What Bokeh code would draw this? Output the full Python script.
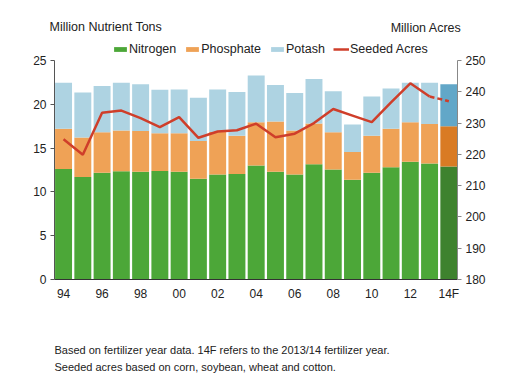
from bokeh.plotting import figure
from bokeh.layouts import column, row
from bokeh.models import (Range1d, LinearAxis, FixedTicker, Label, Legend, LegendItem,
                          ColumnDataSource)
from bokeh.embed import file_html
from bokeh.resources import INLINE

years = ["94", "95", "96", "97", "98", "99", "00", "01", "02", "03", "04",
         "05", "06", "07", "08", "09", "10", "11", "12", "13", "14F"]
nitrogen = [12.6, 11.7, 12.2, 12.35, 12.3, 12.4, 12.3, 11.5, 12.0, 12.05, 13.0,
            12.3, 12.0, 13.15, 12.55, 11.4, 12.2, 12.8, 13.45, 13.25, 12.9]
phosphate = [4.6, 4.5, 4.6, 4.65, 4.65, 4.3, 4.4, 4.3, 4.85, 4.35, 4.95,
             5.75, 5.0, 4.65, 4.25, 3.15, 4.2, 4.4, 4.5, 4.5, 4.6]
potash = [5.25, 5.15, 5.3, 5.45, 5.35, 4.95, 5.0, 4.95, 4.85, 5.0, 5.35,
          4.15, 4.3, 5.1, 4.7, 3.15, 4.5, 4.6, 4.5, 4.7, 4.8]
acres = [224.8, 219.9, 233.3, 234.0, 231.6, 228.7, 231.9, 225.3, 227.3, 227.7, 229.8,
         225.5, 226.6, 230.0, 234.5, 232.4, 230.3, 236.6, 242.7, 238.5, 237.0]

x = list(range(len(years)))
n_top = nitrogen
p_top = [a + b for a, b in zip(nitrogen, phosphate)]
k_top = [a + b for a, b in zip(p_top, potash)]

GREEN, ORANGE, BLUE = "#4CA738", "#EFA256", "#AED3E2"
green = [GREEN] * 20 + ["#3E822E"]
orange = [ORANGE] * 20 + ["#D97B24"]
blue = [BLUE] * 20 + ["#62A7C8"]
RED = "#CF3E2A"

src = ColumnDataSource(dict(x=x, n_top=n_top, p_top=p_top, k_top=k_top,
                            g=green, o=orange, b=blue))

FONT = "Liberation Sans"
TXT = "#222222"


def strip(h):
    f = figure(width=512, height=h, output_backend="svg", toolbar_location=None,
               x_range=Range1d(0, 512), y_range=Range1d(0, h),
               x_axis_location=None, y_axis_location=None,
               min_border=0, min_border_left=0, min_border_right=0,
               min_border_top=0, min_border_bottom=0)
    f.outline_line_color = None
    f.xgrid.visible = False
    f.ygrid.visible = False
    return f


# ---------------- top strip: axis titles ----------------
top = strip(38)
top.add_layout(Label(x=49, y=12, x_units="screen", y_units="screen", text="Million Nutrient Tons",
                     text_font=FONT, text_font_size="12.5px", text_color=TXT,
                     text_baseline="middle", text_align="left"))
top.add_layout(Label(x=461, y=11, x_units="screen", y_units="screen", text="Million Acres",
                     text_font=FONT, text_font_size="12.5px", text_color=TXT,
                     text_baseline="middle", text_align="right"))

# ---------------- main chart ----------------
# frame spans 241 px; the value axes occupy the lower 219 px (0-25 / 180-250),
# the strip above them holds the legend
FRAME_H, AXIS_H = 241, 219
ytop = 25 * FRAME_H / AXIS_H
atop = 180 + 70 * FRAME_H / AXIS_H

p = figure(width=512, height=FRAME_H + 26, output_backend="svg", toolbar_location=None,
           x_range=Range1d(-0.47, 20.45), y_range=Range1d(0, ytop),
           min_border_left=54, min_border_right=55, min_border_top=0,
           min_border_bottom=26)
p.outline_line_color = None
p.xgrid.visible = False
p.ygrid.visible = False

w = 0.88
r_n = p.vbar(x="x", bottom=0, top="n_top", width=w, fill_color="g", line_color=None, source=src)
r_p = p.vbar(x="x", bottom="n_top", top="p_top", width=w, fill_color="o", line_color=None, source=src)
r_k = p.vbar(x="x", bottom="p_top", top="k_top", width=w, fill_color="b", line_color=None, source=src)

p.extra_y_ranges = {"acres": Range1d(180, atop)}
r_a = p.line(x[:20], acres[:20], y_range_name="acres", line_color=RED, line_width=2.5)
p.line(x[19:], acres[19:], y_range_name="acres", line_color=RED, line_width=2.5,
       line_dash="5 3")

xa = p.xaxis[0]
xa.ticker = FixedTicker(ticks=list(range(0, 21, 2)))
xa.major_label_overrides = {i: years[i] for i in range(0, 21, 2)}
xa.major_tick_out = 0
xa.major_tick_in = 0
xa.minor_tick_out = 0
xa.minor_tick_in = 0
xa.axis_line_color = "#333333"
xa.major_label_text_font = FONT
xa.major_label_text_font_size = "12px"
xa.major_label_text_color = TXT
xa.major_label_standoff = 7

ya = p.yaxis[0]
ya.ticker = FixedTicker(ticks=[0, 5, 10, 15, 20, 25])
ya.bounds = (0, 25)
ya.major_tick_out = 4
ya.major_tick_in = 0
ya.minor_tick_out = 0
ya.minor_tick_in = 0
ya.axis_line_color = "#555555"
ya.major_tick_line_color = "#555555"
ya.major_label_text_font = FONT
ya.major_label_text_font_size = "12px"
ya.major_label_text_color = TXT
ya.major_label_standoff = 4

ra = LinearAxis(y_range_name="acres", ticker=FixedTicker(ticks=list(range(180, 251, 10))),
                bounds=(180, 250))
ra.major_tick_out = 4
ra.major_tick_in = 0
ra.minor_tick_out = 0
ra.minor_tick_in = 0
ra.axis_line_color = "#888888"
ra.major_tick_line_color = "#888888"
ra.major_label_text_font = FONT
ra.major_label_text_font_size = "12px"
ra.major_label_text_color = TXT
ra.major_label_standoff = 4
p.add_layout(ra, "right")

legend = Legend(items=[
    LegendItem(label="Nitrogen", renderers=[r_n], index=0),
    LegendItem(label="Phosphate", renderers=[r_p], index=0),
    LegendItem(label="Potash", renderers=[r_k], index=0),
    LegendItem(label="Seeded Acres", renderers=[r_a]),
], orientation="horizontal", location=(58, FRAME_H - 18), padding=0, margin=0, spacing=8,
    glyph_width=16, glyph_height=6, label_standoff=1, label_height=6,
    label_text_font=FONT, label_text_font_size="12.5px", label_text_color=TXT,
    border_line_color=None, background_fill_alpha=0)
p.add_layout(legend)

# ---------------- bottom strip: footnotes ----------------
bot = strip(74)
bot.add_layout(Label(x=54, y=30, x_units="screen", y_units="screen",
                     text="Based on fertilizer year data. 14F refers to the 2013/14 fertilizer year.",
                     text_font=FONT, text_font_size="11px", text_color=TXT,
                     text_baseline="middle", text_align="left"))
bot.add_layout(Label(x=54, y=13, x_units="screen", y_units="screen",
                     text="Seeded acres based on corn, soybean, wheat and cotton.",
                     text_font=FONT, text_font_size="11px", text_color=TXT,
                     text_baseline="middle", text_align="left"))

layout = column(row(top), row(p), row(bot), spacing=0)
open("out.html", "w").write(file_html(layout, INLINE))
